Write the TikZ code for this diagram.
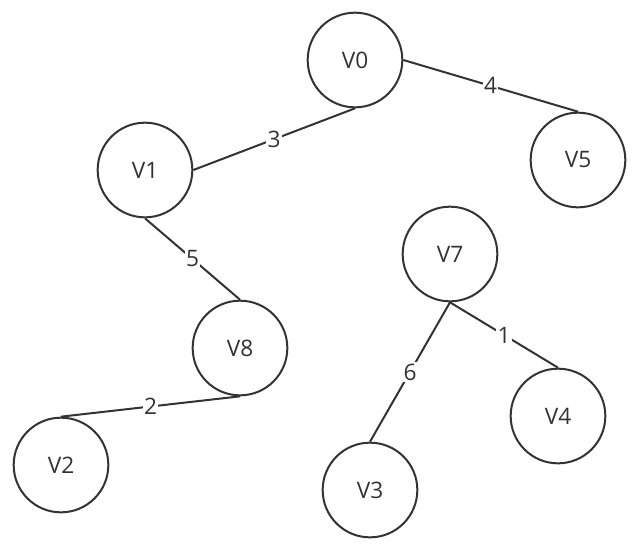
\documentclass[tikz,border=0pt]{standalone}
\usepackage{fontspec}
\setmainfont{Open Sans}
\usetikzlibrary{positioning}
\definecolor{lineC}{gray}{0.2}

\begin{document}
\begin{tikzpicture}[
	x=0.75pt, y=-0.75pt,
	vertex/.style={draw=lineC, circle, line width=1.5pt, minimum size=71pt,
		inner sep=0pt, text=lineC, font=\fontsize{17}{20}\selectfont},
	edge/.style={draw=lineC, line width=1.5pt},
	weight/.style={fill=white, inner sep=1pt, text=lineC,
		font=\fontsize{17}{20}\selectfont},
	]
	\useasboundingbox (0,0) rectangle (643,558);
	\node [vertex] (v0) at (355,60) {V0};
	\node [vertex] (v1) at (145,170) {V1};
	\node [vertex] (v5) at (578,160) {V5};
	\node [vertex] (v7) at (450,254) {V7};
	\node [vertex] (v8) at (240,348) {V8};
	\node [vertex] (v4) at (558,416) {V4};
	\node [vertex] (v2) at (61,465) {V2};
	\node [vertex] (v3) at (370,490) {V3};
	
	\draw [edge] (v0.south) -- node [weight] {3} (v1.east);
	\draw [edge] (v0.east) -- node [weight] {4} (v5.north);
	\draw [edge] (v1.south) -- node [weight] {5} (v8.north);
	\draw [edge] (v8.south) -- node [weight] {2} (v2.north);
	\draw [edge] (v7.south) -- node [weight] {6} (v3.north);
	\draw [edge] (v7.south) -- node [weight] {1} (v4.north);
\end{tikzpicture}
\end{document}
